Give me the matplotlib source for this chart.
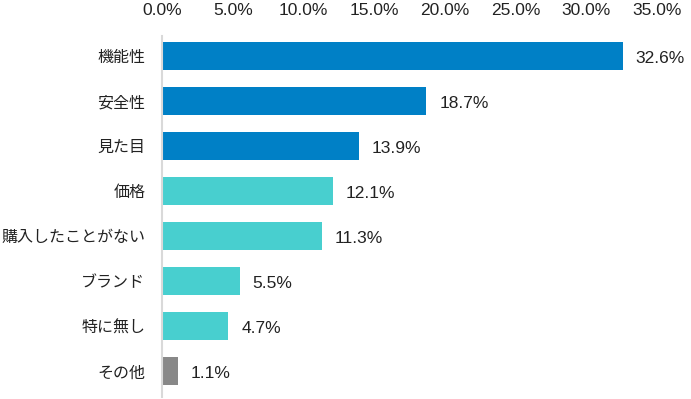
import matplotlib.pyplot as plt
from matplotlib.ticker import FuncFormatter

plt.rcParams['font.family'] = ['Liberation Sans', 'Noto Sans CJK JP']

categories = ["機能性", "安全性", "見た目", "価格", "購入したことがない", "ブランド", "特に無し", "その他"]
values = [32.6, 18.7, 13.9, 12.1, 11.3, 5.5, 4.7, 1.1]
colors = ["#0080c6"] * 3 + ["#48cfcf"] * 4 + ["#888888"]
ticks = [0, 5, 10, 15, 20, 25, 30, 35]

fig = plt.figure(figsize=(6.91, 3.99), dpi=100)
ax = fig.add_axes([162 / 691, 0.005, (657 - 162) / 691, 0.905])

pos = list(range(len(categories)))
ax.barh(pos, values, height=0.62, color=colors)
# value labels sit a touch below the bar centre, like the original
for p, v in zip(pos, values):
    ax.text(v + 0.9, p + 0.06, f"{v:.1f}%", va="center", ha="left", fontsize=12.5, color="#222222")

ax.set_xlim(0, 35)
ax.set_ylim(7.58, -0.44)
ax.set_xticks(ticks)
ax.xaxis.set_major_formatter(FuncFormatter(lambda x, _: f"{x:.1f}%"))
ax.xaxis.tick_top()
ax.set_yticks(pos)
ax.set_yticklabels(categories, fontfamily=['Noto Sans CJK JP'], fontsize=11.5)
ax.tick_params(axis="both", length=0, colors="#222222")
ax.tick_params(axis="x", pad=13, labelsize=12.5)
ax.tick_params(axis="y", pad=12)
for s in ["top", "right", "bottom"]:
    ax.spines[s].set_visible(False)
ax.spines["left"].set_color("#d9d9d9")
ax.spines["left"].set_linewidth(1.5)

fig.savefig("out.png", dpi=100)
